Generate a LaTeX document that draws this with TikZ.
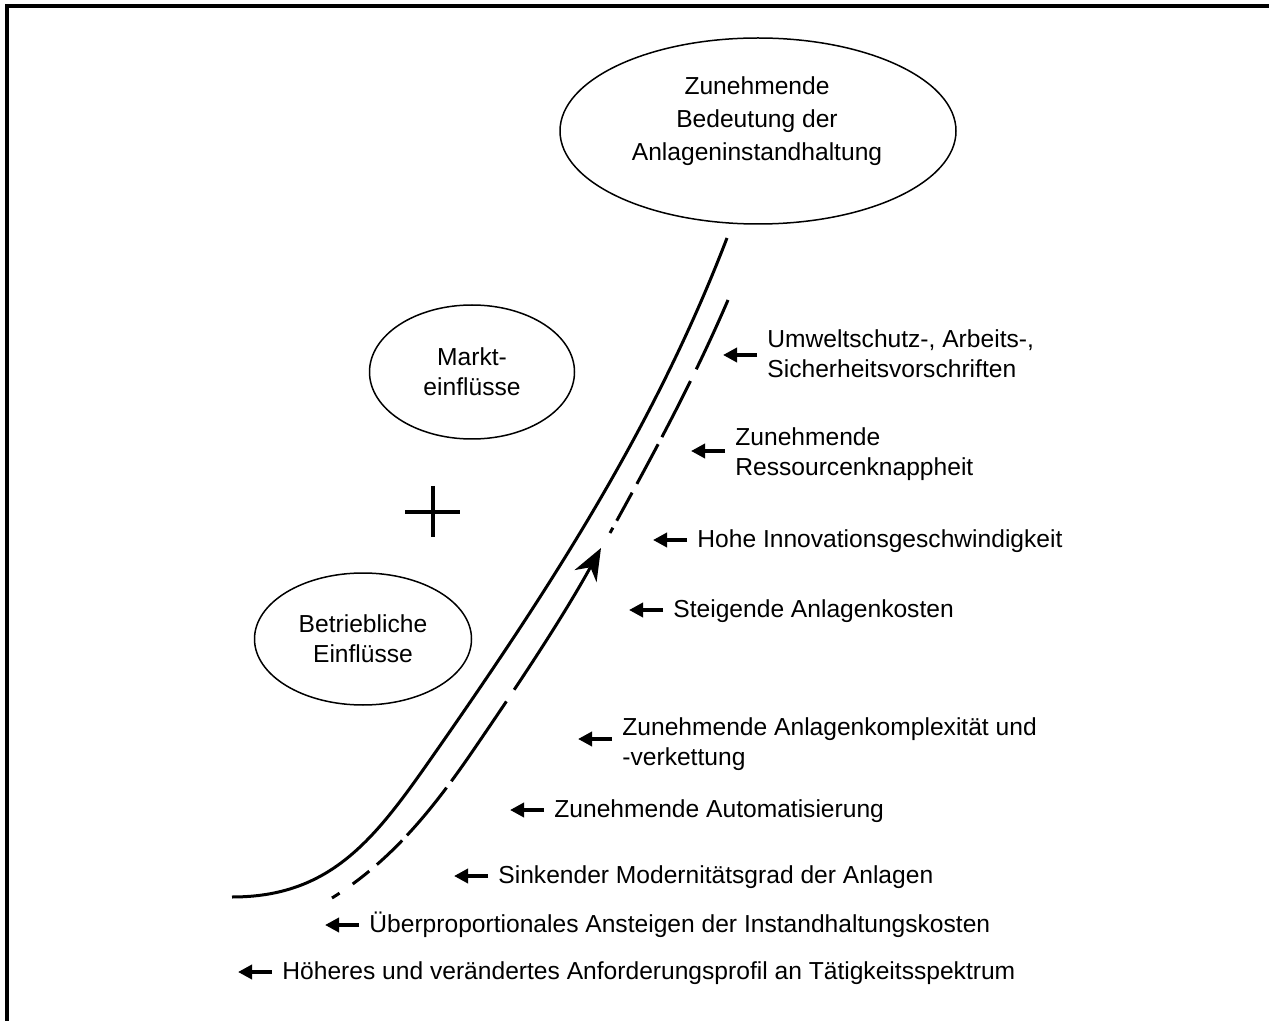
\documentclass[tikz,border=0pt]{standalone}
\usepackage{fontspec}
\setmainfont{Liberation Sans}
\usetikzlibrary{shapes.geometric, arrows.meta}
\begin{document}
\begin{tikzpicture}[x=0.5pt, y=-0.5pt,
  every node/.style={inner sep=0pt, font=\fontsize{12.3pt}{15pt}\selectfont},
  oval/.style={draw, ellipse, line width=0.75pt},
  cause/.style={anchor=west, align=left},
  oneline/.style={cause, text height=0.9em, text depth=0.184em},
  pointer/.style={line width=2pt, -{Triangle[length=7pt, width=7pt]}},
  trend/.style={line width=1.5pt},
]
\useasboundingbox (0,0) rectangle (1269,1021);

% frame (top and left edge)
\draw[line width=2pt] (1269,6) -- (7,6) -- (7,1021);

% influences
\node[oval, minimum width=198pt, minimum height=93pt] (goal) at (758,131) {};
\node[align=center, font=\fontsize{12.3pt}{16.5pt}\selectfont] (goaltext) at (757,121)
  {Zunehmende\\Bedeutung der\\Anlageninstandhaltung};
\node[oval, minimum width=102.5pt, minimum height=67pt, align=center] (markt) at (472,372)
  {Markt-\\einflüsse};
\node[oval, minimum width=108.5pt, minimum height=66pt, align=center] (betrieb) at (363,639)
  {Betriebliche\\Einflüsse};
\draw[line width=2.4pt] (405,512) -- (460,512) (433,486) -- (433,537);

% rising curve
\draw[trend] (232,897) .. controls (330,897) and (374,840) .. (430,760)
  .. controls (549,590) and (654,428) .. (727,238);

% dashed companion curve with arrow
\draw[trend, dash pattern=on 4.5pt off 8pt on 10.5pt off 5pt on 17.5pt off 3.5pt on 31pt off 4pt on 48.5pt off 7pt on 120pt,
  -{Stealth[length=16pt, width=12.5pt, inset=5pt]}]
  (332,898) .. controls (388,863) and (428.6,815) .. (470,755)
  .. controls (518,685) and (562.5,618) .. (601,548);
\draw[trend, dash pattern=on 3pt off 4pt on 16pt off 5pt on 22.5pt off 4pt on 31.5pt off 6.5pt on 80pt]
  (610,533) .. controls (654,453) and (693.6,380) .. (728,300);

% causes
\node[cause] (c1) at (767,353.5) {Umweltschutz-, Arbeits-,\\Sicherheitsvorschriften};
\node[cause] (c2) at (735,454.5) {Zunehmende\\Ressourcenknappheit};
\node[oneline] (c3) at (697,540) {Hohe Innovationsgeschwindigkeit};
\node[oneline] (c4) at (673,610) {Steigende Anlagenkosten};
\node[cause] (c5) at (622,744) {Zunehmende Anlagenkomplexität und\\-verkettung};
\node[oneline] (c6) at (554,810) {Zunehmende Automatisierung};
\node[oneline] (c7) at (498,876) {Sinkender Modernitätsgrad der Anlagen};
\node[oneline] (c8) at (369,925) {Überproportionales Ansteigen der Instandhaltungskosten};
\node[oneline] (c9) at (282,972) {Höheres und verändertes Anforderungsprofil an Tätigkeitsspektrum};

\draw[pointer] ([xshift=-5pt, yshift=-0.75pt]c1.west) -- ++(-34,0);
\draw[pointer] ([xshift=-5pt, yshift=1.75pt]c2.west) -- ++(-34,0);
\foreach \c in {c3,c4,c6,c7,c8,c9}
  \draw[pointer] ([xshift=-5pt]\c.west) -- ++(-34,0);
\draw[pointer] ([xshift=-5pt, yshift=2.5pt]c5.west) -- ++(-34,0);
\end{tikzpicture}
\end{document}
